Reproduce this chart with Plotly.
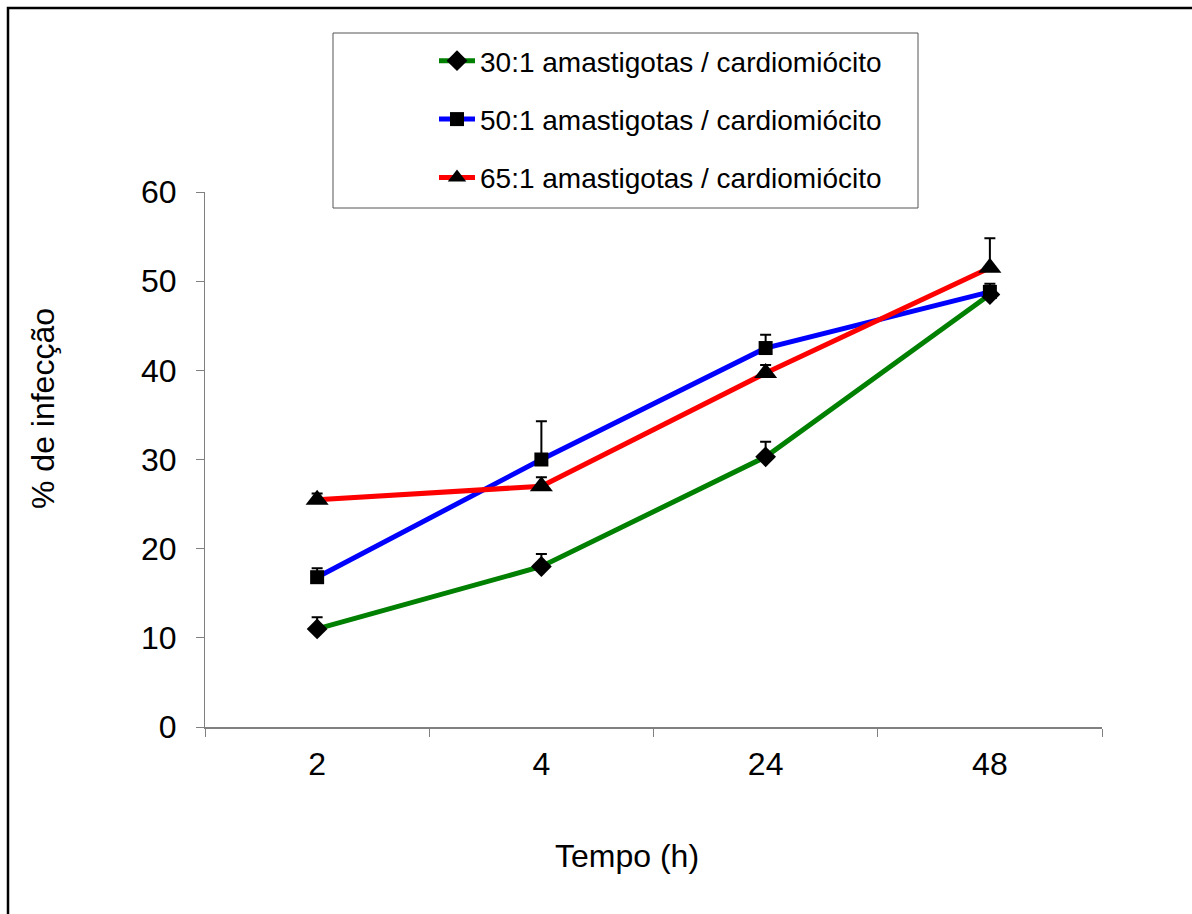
import plotly.graph_objects as go

categories = ["2", "4", "24", "48"]
names = ["30:1 amastigotas / cardiomiócito",
         "50:1 amastigotas / cardiomiócito",
         "65:1 amastigotas / cardiomiócito"]
vals_30 = [11.0, 18.0, 30.3, 48.5]
vals_50 = [16.8, 30.0, 42.5, 48.8]
vals_65 = [25.5, 27.0, 39.7, 51.5]
err_30 = [1.3, 1.4, 1.7, 0.5]
err_50 = [1.0, 4.3, 1.5, 0.9]
err_65 = [0.7, 1.0, 0.9, 3.3]

colors = ["#008000", "#0000FF", "#FF0000"]
symbols = ["diamond", "square", "triangle-up"]
msizes = [16, 14, 20]

FONT = "Liberation Sans, Arial, sans-serif"


def px_x(p):
    return (p - 205) / 897


def px_y(p):
    return (727 - p) / 535


fig = go.Figure()
for i, (name, v, e, c, s, ms) in enumerate(zip(names, [vals_30, vals_50, vals_65],
                                               [err_30, err_50, err_65], colors, symbols, msizes)):
    fig.add_trace(go.Scatter(
        x=categories, y=v, name=name, mode="lines+markers", legendgroup=f"g{i}",
        line=dict(color=c, width=5),
        marker=dict(symbol=s, size=ms, color="black", line=dict(width=0)),
        error_y=dict(type="data", array=e, arrayminus=[0] * len(e), symmetric=False,
                     color="black", thickness=2, width=5.5),
    ))

fig.update_layout(
    width=1192, height=914,
    margin=dict(l=205, r=90, t=192, b=187),
    paper_bgcolor="white", plot_bgcolor="white",
    font=dict(family=FONT, color="black", size=32),
    showlegend=True,
    legend=dict(
        x=px_x(434), y=px_y(36), xanchor="left", yanchor="top",
        bgcolor="rgba(0,0,0,0)", borderwidth=0,
        font=dict(family=FONT, size=28, color="black"),
        itemwidth=36, tracegroupgap=19,
    ),
    xaxis=dict(
        type="category", range=[-0.5, 3.5],
        showline=True, linecolor="#808080", linewidth=2,
        ticks="outside", tickson="boundaries", ticklen=8, tickcolor="#808080", tickwidth=1,
        showgrid=False, zeroline=False, ticklabelstandoff=8,
        tickfont=dict(family=FONT, size=32, color="black"),
    ),
    yaxis=dict(
        range=[0, 60], tickvals=[0, 10, 20, 30, 40, 50, 60],
        showline=True, linecolor="#808080", linewidth=1,
        ticks="outside", ticklen=8, tickcolor="#808080", tickwidth=1,
        showgrid=False, zeroline=False, ticklabelstandoff=13,
        tickfont=dict(family=FONT, size=32, color="black"),
    ),
    annotations=[
        dict(text="% de infecção", xref="paper", yref="paper",
             x=px_x(43), y=px_y(409), textangle=-90,
             showarrow=False, xanchor="center", yanchor="middle",
             font=dict(family=FONT, size=32, color="black")),
        dict(text="Tempo (h)", xref="paper", yref="paper",
             x=px_x(627), y=px_y(856),
             showarrow=False, xanchor="center", yanchor="middle",
             font=dict(family=FONT, size=32, color="black")),
    ],
    shapes=[
        dict(type="rect", xref="paper", yref="paper",
             x0=px_x(8), x1=px_x(1210), y0=px_y(930), y1=px_y(8),
             line=dict(color="black", width=2.5), fillcolor="rgba(0,0,0,0)", layer="below"),
        dict(type="rect", xref="paper", yref="paper",
             x0=px_x(333), x1=px_x(918), y0=px_y(208), y1=px_y(33),
             line=dict(color="#555555", width=1), fillcolor="white", layer="below"),
    ],
)

fig.write_html("out.html")
